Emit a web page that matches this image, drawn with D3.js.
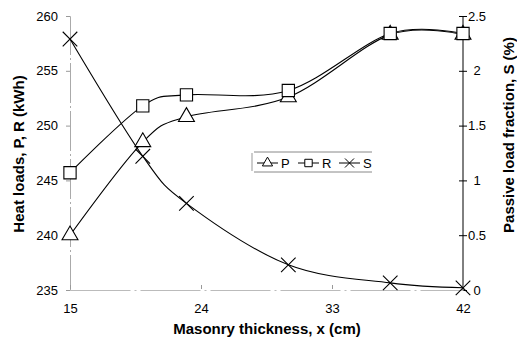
<!DOCTYPE html>
<html>
<head>
<meta charset="utf-8">
<script src="https://cdn.jsdelivr.net/npm/d3@7"></script>
<style>
  body { margin: 0; background: #fff; }
  text { font-family: "Liberation Sans", Arial, sans-serif; }
</style>
</head>
<body>
<div id="chart"></div>
<script>
// values
var thickness = [15, 20, 23, 30, 37, 42];
var loadP = [240.0, 248.5, 250.8, 252.6, 258.3, 258.3];
var loadR = [245.7, 251.8, 252.8, 253.2, 258.4, 258.4];
var fracS = [2.29, 1.22, 0.79, 0.23, 0.065, 0.02];
var xTicks = [15, 24, 33, 42];
var leftTicks = [235, 240, 245, 250, 255, 260];
var rightTicks = [0, 0.5, 1, 1.5, 2, 2.5];

const width = 517, height = 337;
const plotL = 70, plotR = 463, plotT = 16, plotB = 290;

const svg = d3.select("#chart").append("svg")
  .attr("width", width).attr("height", height);

const x = d3.scaleLinear().domain([15, 42]).range([plotL, plotR]);
const yL = d3.scaleLinear().domain([235, 260]).range([plotB, plotT]);
const yR = d3.scaleLinear().domain([0, 2.5]).range([plotB, plotT]);

// left axis (faint, scanned look)
const gL = svg.append("g").attr("transform", "translate(" + plotL + ",0)")
  .call(d3.axisLeft(yL).tickValues(leftTicks).tickSize(4).tickPadding(8).tickFormat(d3.format("d")));
gL.select(".domain").attr("stroke", "#aaa").attr("stroke-dasharray", "40,3,2,3");
gL.selectAll(".tick line").attr("stroke", "#999");

// right axis, labels centred like the original
const gR = svg.append("g").attr("transform", "translate(" + plotR + ",0)")
  .call(d3.axisRight(yR).tickValues(rightTicks).tickSize(4).tickPadding(6).tickFormat(d => d));
gR.selectAll(".tick line").attr("x1", -4);
gR.selectAll(".tick text").attr("x", 14).attr("text-anchor", "middle");
gR.select(".domain").attr("d", "M0," + plotT + "V" + plotB);

// bottom axis
const gX = svg.append("g").attr("transform", "translate(0," + plotB + ")")
  .call(d3.axisBottom(x).tickValues(xTicks).tickSize(0).tickPadding(14));
gX.select(".domain").attr("stroke", "#bbb").attr("stroke-dasharray", "60,4,2,4");
gX.selectAll(".tick").append("line").attr("y1", -5).attr("y2", -1).attr("stroke", "#999");

svg.selectAll(".tick text").attr("font-size", 13).attr("fill", "#000")
  .style("font-family", "'Liberation Sans', Arial, sans-serif");

// series
const line = d3.line().curve(d3.curveCardinal.tension(0));
function pts(ys, sc) { return thickness.map((t, i) => [x(t), sc(ys[i])]); }

svg.append("path").attr("d", line(pts(loadP, yL)))
  .attr("fill", "none").attr("stroke", "#000").attr("stroke-width", 1.1);
svg.append("path").attr("d", line(pts(loadR, yL)))
  .attr("fill", "none").attr("stroke", "#000").attr("stroke-width", 1.1);
svg.append("path").attr("d", line(pts(fracS, yR)))
  .attr("fill", "none").attr("stroke", "#000").attr("stroke-width", 1.1);

const tri = d3.symbol().type(d3.symbolTriangle).size(110);
const sq = d3.symbol().type(d3.symbolSquare).size(150);
const cross = d3.symbol().type(d3.symbolTimes).size(140);

function markers(ys, sc, sym, fill) {
  svg.append("g").selectAll("path").data(ys).enter().append("path")
    .attr("transform", (d, i) => "translate(" + x(thickness[i]) + "," + sc(d) + ")")
    .attr("d", sym)
    .attr("fill", fill).attr("stroke", "#000").attr("stroke-width", 1.1);
}
markers(loadP, yL, tri, "#fff");
markers(loadR, yL, sq, "#fff");
markers(fracS, yR, cross, "none");

// legend
const lg = svg.append("g").attr("transform", "translate(252,151)");
lg.append("line").attr("x1", 0).attr("x2", 0).attr("y1", 2).attr("y2", 20).attr("stroke", "#999");
lg.append("line").attr("x1", 2).attr("x2", 120).attr("y1", 1).attr("y2", 1).attr("stroke", "#888");
lg.append("line").attr("x1", 2).attr("x2", 120).attr("y1", 21).attr("y2", 21).attr("stroke", "#888");
const items = [
  {name: "P", sym: d3.symbol().type(d3.symbolTriangle).size(45), fill: "#fff"},
  {name: "R", sym: d3.symbol().type(d3.symbolSquare).size(55), fill: "#fff"},
  {name: "S", sym: d3.symbol().type(d3.symbolTimes).size(55), fill: "none"}
];
const li = lg.selectAll("g.item").data(items).enter().append("g")
  .attr("transform", (d, i) => "translate(" + (5 + i * 41) + ",12)");
li.append("line").attr("x1", 0).attr("x2", 21).attr("stroke", "#000");
li.append("path").attr("transform", "translate(10.5,0)").attr("d", d => d.sym())
  .attr("fill", d => d.fill).attr("stroke", "#000");
li.append("text").attr("x", 24).attr("y", 5).attr("font-size", 13).text(d => d.name);

// axis titles
svg.append("text").attr("x", 267).attr("y", 334)
  .attr("text-anchor", "middle").attr("font-size", 15).attr("font-weight", "bold")
  .text("Masonry thickness, x (cm)");
svg.append("text").attr("transform", "translate(24,154) rotate(-90)")
  .attr("text-anchor", "middle").attr("font-size", 15).attr("font-weight", "bold")
  .text("Heat loads, P, R (kWh)");
svg.append("text").attr("transform", "translate(514,135) rotate(-90)")
  .attr("text-anchor", "middle").attr("font-size", 15).attr("font-weight", "bold")
  .text("Passive load fraction, S (%)");
</script>
</body>
</html>
